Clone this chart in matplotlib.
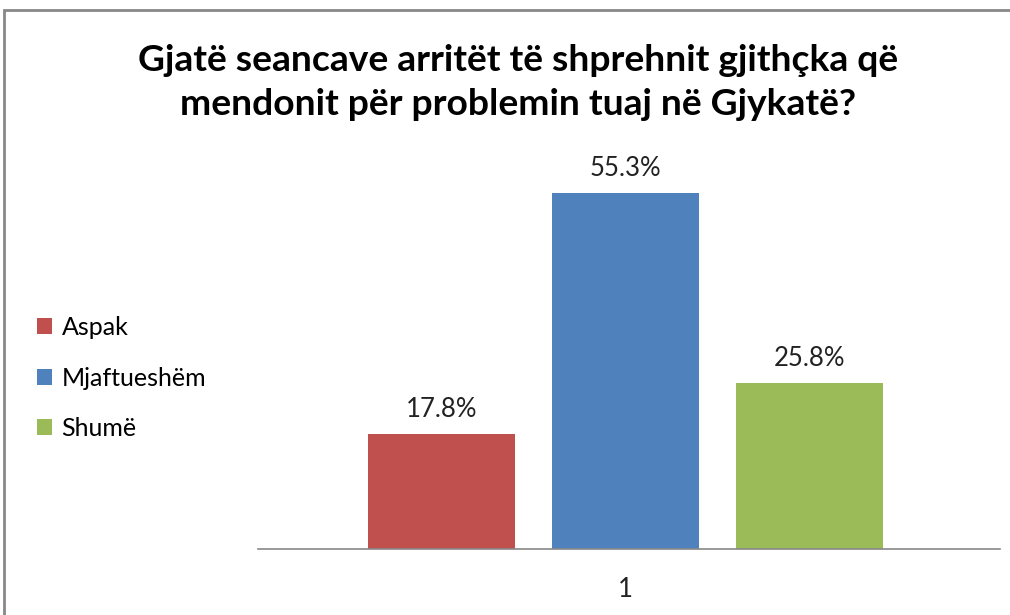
import matplotlib.pyplot as plt
from matplotlib.patches import Rectangle

plt.rcParams['font.family'] = ['Lato', 'DejaVu Sans']

# data
categories = ['Aspak', 'Mjaftueshëm', 'Shumë']
values = [17.8, 55.3, 25.8]
colors = ['#C0504D', '#4F81BD', '#9BBB59']
tick_labels = ['1']
title = 'Gjatë seancave arritët të shprehnit gjithçka që\nmendonit për problemin tuaj në Gjykatë?'

fig = plt.figure(figsize=(10.1, 6.15), dpi=100)
ax = fig.add_axes([0.2554, 0.1073, 0.7347, 0.6277])

width = 0.197
step = 0.248
for i, (cat, val, col) in enumerate(zip(categories, values, colors)):
    x = 1 + (i - 1) * step
    ax.bar(x, val, width=width, color=col, label=cat)
    ax.text(x, val + 1.9, f'{val}%', ha='center', va='bottom', fontsize=18.5, color='#222222')

ax.set_xlim(0.5047, 1.5047)
ax.set_ylim(0, 60)
ax.set_xticks([1])
ax.set_xticklabels(tick_labels, fontsize=18.5, color='#222222')
ax.tick_params(axis='x', length=0, pad=20)
ax.set_yticks([])
for s in ['top', 'right', 'left']:
    ax.spines[s].set_visible(False)
ax.spines['bottom'].set_color('#888888')
ax.spines['bottom'].set_linewidth(1.2)

fig.text(0.513, 0.866, title, ha='center', va='center', fontsize=26.8,
         fontweight='bold', linespacing=1.4)

fig.legend(loc='center left', bbox_to_anchor=(0.014, 0.385), frameon=False,
           fontsize=18, handlelength=0.6, handleheight=0.6, labelspacing=1.1,
           handletextpad=0.4)

fig.patches.append(Rectangle((0.004, -0.05), 1.1, 1.034, transform=fig.transFigure,
                             fill=False, edgecolor='#888888', linewidth=2))

fig.savefig('out.png', dpi=100)
